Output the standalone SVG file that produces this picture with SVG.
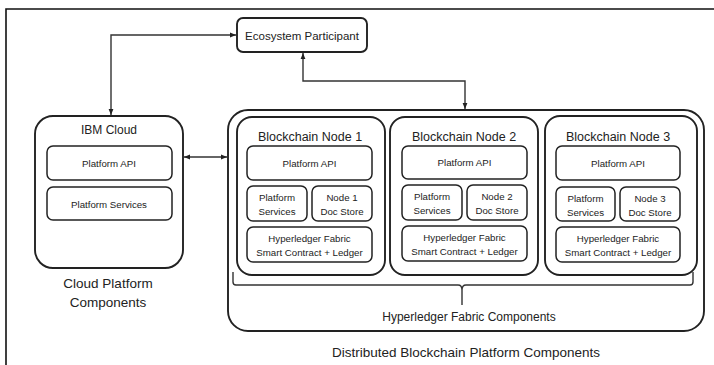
<svg xmlns="http://www.w3.org/2000/svg" width="714" height="365" viewBox="0 0 714 365">
<style>
text{font-family:"Liberation Sans",Arial,sans-serif;fill:#222;text-anchor:middle;dominant-baseline:central}
.box{fill:#fff;stroke:#222;stroke-width:1.9}
.in{fill:#fff;stroke:#222;stroke-width:1.5}
.conn{fill:none;stroke:#333;stroke-width:1.4}
.s{font-size:9.7px}
.t{font-size:12px}
</style>
<defs>
<marker id="ah" viewBox="0 0 10 10" refX="10" refY="5" markerWidth="6" markerHeight="6" markerUnits="userSpaceOnUse" orient="auto-start-reverse">
<path d="M0,1 L10,5 L0,9 z" fill="#222"/>
</marker>
</defs>
<rect width="714" height="365" fill="#fff"/>
<path d="M6,365 V9 H714" fill="none" stroke="#111" stroke-width="1.6"/>

<g id="connectors">
<path class="conn" d="M111,115 V35 H236" marker-start="url(#ah)" marker-end="url(#ah)"/>
<path class="conn" d="M303,53 V81 H465 V109" marker-start="url(#ah)" marker-end="url(#ah)"/>
<path class="conn" d="M184,157 H227" marker-start="url(#ah)" marker-end="url(#ah)"/>
</g>

<g id="ecosystem">
<rect class="box" x="237" y="18" width="130" height="34" rx="6"/>
<text x="302" y="36" style="font-size:11.5px">Ecosystem Participant</text>
</g>

<g id="ibm-cloud">
<rect class="box" x="35" y="116" width="148" height="152" rx="18"/>
<text class="t" x="109" y="130">IBM Cloud</text>
<rect class="in" x="47" y="146" width="125" height="34" rx="6"/>
<text class="s" x="109" y="163">Platform API</text>
<rect class="in" x="47" y="187" width="125" height="33" rx="6"/>
<text class="s" x="109" y="204">Platform Services</text>
</g>
<g id="cloud-label">
<text x="108" y="283" style="font-size:13.5px">Cloud Platform</text>
<text x="108" y="302" style="font-size:13.5px">Components</text>
</g>

<g id="distributed">
<rect class="box" x="228" y="110" width="476" height="221" rx="20"/>
<text x="469" y="317" class="t">Hyperledger Fabric Components</text>
<path class="conn" d="M233,272 V282 Q233,285 236,285 H458 Q462,285 462,290 V305 M462,290 Q462,285 466,285 H690 Q693,285 693,282 V272" stroke-width="1.5"/>
</g>
<text x="466" y="352" style="font-size:13.5px">Distributed Blockchain Platform Components</text>

<g id="node1">
<rect class="box" x="237" y="117" width="148" height="158" rx="15"/>
<text x="310" y="137" style="font-size:12.5px">Blockchain Node 1</text>
<rect class="in" x="247" y="146" width="125" height="34" rx="6"/>
<text class="s" x="309.5" y="163">Platform API</text>
<rect class="in" x="247" y="186" width="60" height="35" rx="6"/>
<text class="s" x="277" y="197">Platform</text>
<text class="s" x="277" y="211">Services</text>
<rect class="in" x="312" y="186" width="60" height="35" rx="6"/>
<text class="s" x="342" y="197">Node 1</text>
<text class="s" x="342" y="211">Doc Store</text>
<rect class="in" x="247" y="227" width="125" height="35" rx="6"/>
<text class="s" x="309.5" y="238">Hyperledger Fabric</text>
<text class="s" x="309.5" y="252">Smart Contract + Ledger</text>
</g>

<g id="node2">
<rect class="box" x="390" y="117" width="148" height="158" rx="15"/>
<text x="464" y="137" style="font-size:12.5px">Blockchain Node 2</text>
<rect class="in" x="402" y="146" width="125" height="33" rx="6"/>
<text class="s" x="464.5" y="162.5">Platform API</text>
<rect class="in" x="402" y="185" width="60" height="35" rx="6"/>
<text class="s" x="432" y="196">Platform</text>
<text class="s" x="432" y="210">Services</text>
<rect class="in" x="467" y="185" width="60" height="35" rx="6"/>
<text class="s" x="497" y="196">Node 2</text>
<text class="s" x="497" y="210">Doc Store</text>
<rect class="in" x="402" y="226" width="125" height="35" rx="6"/>
<text class="s" x="464.5" y="237">Hyperledger Fabric</text>
<text class="s" x="464.5" y="251">Smart Contract + Ledger</text>
</g>

<g id="node3">
<rect class="box" x="545" y="116" width="152" height="159" rx="15"/>
<text x="618" y="137" style="font-size:12.5px">Blockchain Node 3</text>
<rect class="in" x="556" y="146" width="124" height="34" rx="6"/>
<text class="s" x="618" y="163">Platform API</text>
<rect class="in" x="556" y="187" width="59" height="34" rx="6"/>
<text class="s" x="585.5" y="198">Platform</text>
<text class="s" x="585.5" y="212">Services</text>
<rect class="in" x="620" y="187" width="60" height="34" rx="6"/>
<text class="s" x="650" y="198">Node 3</text>
<text class="s" x="650" y="212">Doc Store</text>
<rect class="in" x="556" y="227" width="124" height="35" rx="6"/>
<text class="s" x="618" y="238">Hyperledger Fabric</text>
<text class="s" x="618" y="252">Smart Contract + Ledger</text>
</g>
</svg>
